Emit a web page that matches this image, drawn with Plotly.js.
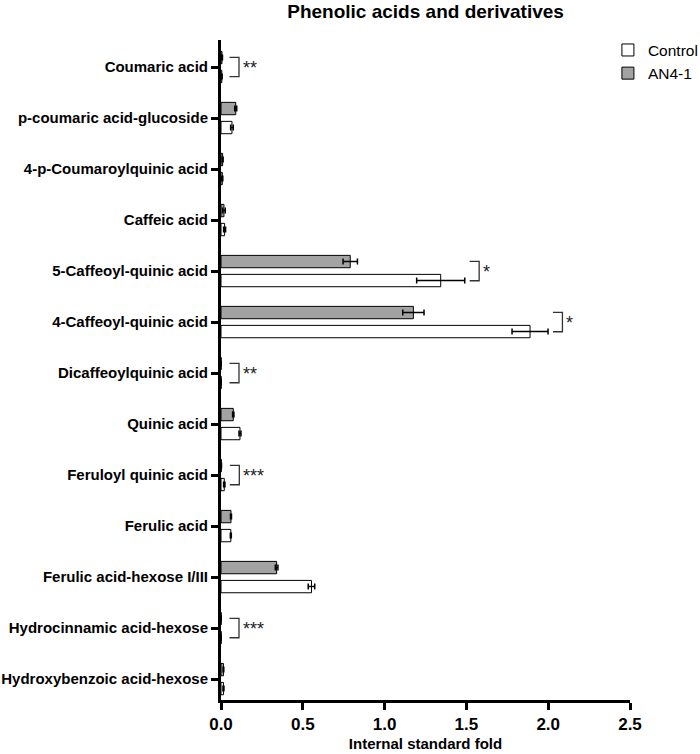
<!DOCTYPE html>
<html>
<head>
<meta charset="utf-8">
<script src="https://cdn.plot.ly/plotly-3.0.1.min.js"></script>
<style>html,body{margin:0;padding:0;background:#fff;}#chart{width:700px;height:754px;}</style>
</head>
<body>
<div id="chart"></div>
<script>
// ---- data ----
var categories = [
  "Coumaric acid",
  "p-coumaric acid-glucoside",
  "4-p-Coumaroylquinic acid",
  "Caffeic acid",
  "5-Caffeoyl-quinic acid",
  "4-Caffeoyl-quinic acid",
  "Dicaffeoylquinic acid",
  "Quinic acid",
  "Feruloyl quinic acid",
  "Ferulic acid",
  "Ferulic acid-hexose I/III",
  "Hydrocinnamic acid-hexose",
  "Hydroxybenzoic acid-hexose"
];
var controlValues = [0.005, 0.067, 0.008, 0.022, 1.343, 1.889, 0.001, 0.116, 0.02, 0.06, 0.553, 0.001, 0.015];
var controlErrors = [0.002, 0.008, 0.003, 0.006, 0.147, 0.110, 0.0005, 0.006, 0.004, 0.003, 0.020, 0.0005, 0.003];
var an41Values    = [0.006, 0.090, 0.010, 0.018, 0.790, 1.176, 0.001, 0.075, 0.002, 0.061, 0.340, 0.001, 0.015];
var an41Errors    = [0.003, 0.006, 0.003, 0.008, 0.044, 0.065, 0.0005, 0.004, 0.001, 0.003, 0.008, 0.0005, 0.002];
var significance  = ["**", "", "", "", "*", "*", "**", "", "***", "", "", "***", ""];
var seriesNames   = ["Control", "AN4-1"];

// ---- chart ----
var FONT = "Liberation Sans, Arial, Helvetica, sans-serif";

var traceAN = {
  type: "bar", orientation: "h", name: seriesNames[1],
  y: categories, x: an41Values,
  marker: {color: "#a3a3a3", line: {color: "#000", width: 1}},
  error_x: {type: "data", array: an41Errors, visible: true, color: "#000", thickness: 1.5, width: 3},
  legendgroup: "b", hoverinfo: "x+y"
};
var traceCtrl = {
  type: "bar", orientation: "h", name: seriesNames[0],
  y: categories, x: controlValues,
  marker: {color: "#ffffff", line: {color: "#000", width: 1}},
  error_x: {type: "data", array: controlErrors, visible: true, color: "#000", thickness: 1.5, width: 3},
  legendgroup: "a", hoverinfo: "x+y"
};

// significance brackets built from the data
var shapes = [];
var annotations = [];
var half = 0.19;
for (var i = 0; i < categories.length; i++) {
  if (!significance[i]) continue;
  var end = Math.max(controlValues[i] + controlErrors[i], an41Values[i] + an41Errors[i]);
  var x0 = Math.max(end + 0.03, 0.052);
  var x1 = x0 + 0.058;
  shapes.push({
    type: "path", xref: "x", yref: "y",
    path: "M" + x0 + "," + (i - half) + " L" + x1 + "," + (i - half) +
          " L" + x1 + "," + (i + half) + " L" + x0 + "," + (i + half),
    line: {color: "#333", width: 1.3}
  });
  annotations.push({
    xref: "x", yref: "y", x: x1 + 0.01, y: i,
    text: significance[i], showarrow: false,
    xanchor: "left", yanchor: "middle", yshift: -1,
    font: {family: FONT, size: 18, color: "#222"}
  });
}

var layout = {
  width: 700, height: 754,
  paper_bgcolor: "#fff", plot_bgcolor: "#fff",
  margin: {l: 221, r: 70, t: 40, b: 54, pad: 0, autoexpand: false},
  font: {family: FONT, color: "#000"},
  title: {
    text: "<b>Phenolic acids and derivatives</b>",
    font: {family: FONT, size: 19, color: "#000"},
    x: 0.608, xanchor: "center", y: 0.985, yanchor: "middle", yref: "container"
  },
  barmode: "group",
  bargap: 0.255,
  bargroupgap: 0.35,
  showlegend: true,
  legend: {
    x: 0.946, xanchor: "left", y: 1.01, yanchor: "top",
    traceorder: "reversed", tracegroupgap: 6,
    font: {family: FONT, size: 15.5, color: "#000"},
    bgcolor: "rgba(0,0,0,0)"
  },
  xaxis: {
    range: [0, 2.5], dtick: 0.5, tick0: 0, tickformat: ".1f",
    showgrid: false, zeroline: false,
    showline: true, linecolor: "#000", linewidth: 3,
    ticks: "outside", ticklen: 7, tickwidth: 3, tickcolor: "#000",
    tickfont: {family: FONT, size: 17, color: "#000", weight: "bold"},
    title: {text: "<b>Internal standard fold</b>", font: {family: FONT, size: 15, color: "#000"}, standoff: 6},
    fixedrange: true
  },
  yaxis: {
    type: "category",
    range: [12.41, -0.53],
    showgrid: false, zeroline: false,
    showline: true, linecolor: "#000", linewidth: 3,
    ticks: "outside", ticklen: 7, tickwidth: 3, tickcolor: "#000",
    tickfont: {family: FONT, size: 15, color: "#000", weight: "bold"},
    fixedrange: true
  },
  shapes: shapes,
  annotations: annotations
};

Plotly.newPlot("chart", [traceAN, traceCtrl], layout, {displayModeBar: false, staticPlot: true});
</script>
</body>
</html>
